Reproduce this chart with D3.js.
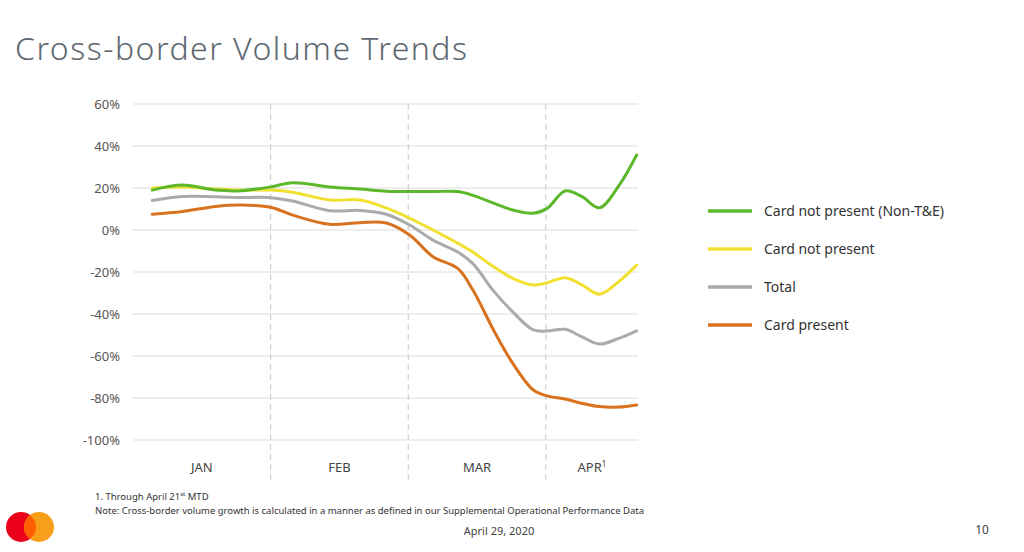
<!DOCTYPE html>
<html>
<head>
<meta charset="utf-8">
<script src="https://cdn.jsdelivr.net/npm/d3@7"></script>
<style>
  html, body { margin: 0; padding: 0; background: #fff; }
  svg { display: block; font-family: "Noto Sans", "Open Sans", sans-serif; }
</style>
</head>
<body>
<div id="chart"></div>
<script>
// posiciones en "meses" (0 = 1 de enero, 1 = 1 de febrero, ...)
const periodos = [0.14, 0.36, 0.6, 0.78, 1.0, 1.16, 1.43, 1.65, 1.84, 2.01, 2.18, 2.36, 2.47, 2.62, 2.76, 2.91, 3.01, 3.14, 3.26, 3.39, 3.53, 3.66];

const cnpNonTE  = [19, 21.4, 19, 18.7, 20.5, 22.5, 20.5, 19.5, 18.5, 18.3, 18.3, 18.3, 16.5, 12.8, 9.5, 8, 10.3, 18.6, 16, 10.6, 21, 35.7];
const cnp       = [20, 20.5, 19.5, 19, 19, 18, 14.3, 14.3, 10.5, 5.6, 0, -6.3, -10.5, -17.5, -23, -26.2, -25.1, -22.7, -26, -30.6, -24.6, -16.7];
const total     = [14, 15.9, 15.8, 15.5, 15.4, 13.8, 9.2, 9.3, 7.5, 2.4, -4.8, -10.5, -16, -29, -39, -47.6, -48.1, -47.3, -50.8, -54.3, -51.6, -48];
const cardPres  = [7.5, 8.8, 11.2, 11.9, 10.8, 7.1, 2.7, 3.5, 3.3, -2.4, -12.7, -18.3, -28.6, -47.6, -63.5, -76.2, -79, -80.5, -82.5, -84.1, -84.3, -83.3];

const meses = ["JAN", "FEB", "MAR", "APR"];
const yTicks = [60, 40, 20, 0, -20, -40, -60, -80, -100];

const series = [
  { nombre: "Card not present (Non-T&E)", valores: cnpNonTE, color: "#5cb82a" },
  { nombre: "Card not present", valores: cnp, color: "#f2e030" },
  { nombre: "Total", valores: total, color: "#ababab" },
  { nombre: "Card present", valores: cardPres, color: "#d8721f" }
];

const W = 1024, H = 552;
const svg = d3.select("#chart").append("svg")
  .attr("width", W).attr("height", H);

// Título
svg.append("text")
  .attr("x", 15).attr("y", 60)
  .attr("font-size", 32)
  .attr("font-weight", 300)
  .attr("fill", "#5e6870")
  .attr("textLength", 452)
  .text("Cross-border Volume Trends");

const x = d3.scaleLinear().domain([0, 3.67]).range([133, 638]);
const y = d3.scaleLinear().domain([-100, 60]).range([440, 104]);

// Rejilla horizontal
svg.append("g")
  .selectAll("line")
  .data(yTicks)
  .join("line")
  .attr("x1", x(0)).attr("x2", x(3.67))
  .attr("y1", d => y(d)).attr("y2", d => y(d))
  .attr("stroke", "#dcdcdc")
  .attr("stroke-width", 1);

// Etiquetas eje Y
svg.append("g")
  .selectAll("text")
  .data(yTicks)
  .join("text")
  .attr("x", 120)
  .attr("y", d => y(d) + 5)
  .attr("text-anchor", "end")
  .attr("font-size", 13)
  .attr("fill", "#555")
  .text(d => d + "%");

// Separadores de mes (discontinuos)
svg.append("g")
  .selectAll("line")
  .data([1, 2, 3])
  .join("line")
  .attr("x1", d => x(d)).attr("x2", d => x(d))
  .attr("y1", y(60)).attr("y2", 480)
  .attr("stroke", "#c8c8c8")
  .attr("stroke-width", 1)
  .attr("stroke-dasharray", "6,4");

// Etiquetas de mes
const centros = [0.5, 1.5, 2.5, 3.335];
svg.append("g")
  .selectAll("text")
  .data(meses)
  .join("text")
  .attr("x", (d, i) => x(centros[i]))
  .attr("y", 472)
  .attr("text-anchor", "middle")
  .attr("font-size", 13)
  .attr("fill", "#444")
  .each(function(d) {
    const t = d3.select(this);
    t.append("tspan").text(d);
    if (d === "APR") t.append("tspan").attr("font-size", 8).attr("dy", -5).text("1");
  });

// Líneas
const linea = d3.line()
  .x((d, i) => x(periodos[i]))
  .y(d => y(d))
  .curve(d3.curveCatmullRom.alpha(0.5));

// dibujar de atrás hacia delante: orange, gray, yellow, green
svg.append("g")
  .selectAll("path")
  .data(series.slice().reverse())
  .join("path")
  .attr("d", d => linea(d.valores))
  .attr("fill", "none")
  .attr("stroke", d => d.color)
  .attr("stroke-width", 3)
  .attr("stroke-linecap", "round");

// Leyenda
const leyenda = svg.append("g")
  .selectAll("g")
  .data(series)
  .join("g")
  .attr("transform", (d, i) => `translate(708, ${211 + i * 38})`);

leyenda.append("line")
  .attr("x1", 0).attr("x2", 44)
  .attr("stroke", d => d.color)
  .attr("stroke-width", 3.5);

leyenda.append("text")
  .attr("x", 56).attr("y", 5)
  .attr("font-size", 14)
  .attr("fill", "#333")
  .text(d => d.nombre);

// Notas al pie
const nota = svg.append("text")
  .attr("x", 95).attr("y", 500)
  .attr("font-size", 9.5)
  .attr("fill", "#333");
nota.append("tspan").text("1.  Through April 21");
nota.append("tspan").attr("font-size", 6).attr("dy", -4).text("st");
nota.append("tspan").attr("dy", 4).text(" MTD");

svg.append("text")
  .attr("x", 95).attr("y", 514)
  .attr("font-size", 9.5)
  .attr("fill", "#333")
  .attr("textLength", 549)
  .text("Note: Cross-border volume growth is calculated in a manner as defined in our Supplemental Operational Performance Data");

svg.append("text")
  .attr("x", 499).attr("y", 535)
  .attr("text-anchor", "middle")
  .attr("font-size", 11)
  .attr("fill", "#444")
  .text("April 29, 2020");

svg.append("text")
  .attr("x", 982).attr("y", 534)
  .attr("text-anchor", "middle")
  .attr("font-size", 12)
  .attr("fill", "#444")
  .text("10");

// Logo
const logo = svg.append("g");
logo.append("circle").attr("cx", 21).attr("cy", 527).attr("r", 15).attr("fill", "#eb001b");
logo.append("circle").attr("cx", 39).attr("cy", 527).attr("r", 15).attr("fill", "#f79e1b");
// zona de solape
const clip = svg.append("clipPath").attr("id", "clipRojo");
clip.append("circle").attr("cx", 21).attr("cy", 527).attr("r", 15);
logo.append("circle").attr("cx", 39).attr("cy", 527).attr("r", 15)
  .attr("fill", "#ff5f00")
  .attr("clip-path", "url(#clipRojo)");
</script>
</body>
</html>
